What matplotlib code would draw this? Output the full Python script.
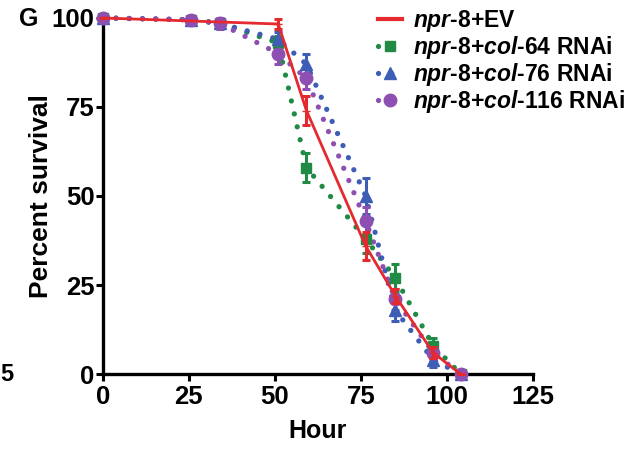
import numpy as np
import matplotlib
matplotlib.use("Agg")
import matplotlib.pyplot as plt
from matplotlib.lines import Line2D

plt.rcParams['font.family'] = 'Liberation Sans'
plt.rcParams['font.weight'] = 'bold'
plt.rcParams['mathtext.fontset'] = 'custom'
plt.rcParams['mathtext.it'] = 'Liberation Sans:italic:bold'
plt.rcParams['mathtext.rm'] = 'Liberation Sans:bold'

#%% data
hours = [0, 25.6, 34, 51, 59.2, 76.4, 85, 96, 104]
hours_ev = [0, 51, 59.2, 76.4, 85, 96, 104]

ev = [100, 98.3, 74, 36, 22, 6, 0]
ev_err = [0, 1.5, 4, 4, 2, 1.5, 0]

col64 = [100, 99.5, 98.5, 93, 58, 38, 27, 8, 0]
col64_err = [0, 0.5, 1, 2, 4, 4, 4, 2, 0]

col76 = [100, 99.5, 98.5, 94, 87, 50, 18, 4, 0]
col76_err = [0, 0.5, 1, 2, 3, 5, 3, 2, 0]

col116 = [100, 99.5, 98.5, 90, 83, 43, 21, 6, 0]
col116_err = [0, 1, 1.5, 3, 3, 4, 3, 2, 0]

labels = [r'$\mathit{npr}$-$\mathit{8}$+EV',
          r'$\mathit{npr}$-$\mathit{8}$+$\mathit{col}$-$\mathit{64}$ RNAi',
          r'$\mathit{npr}$-$\mathit{8}$+$\mathit{col}$-$\mathit{76}$ RNAi',
          r'$\mathit{npr}$-$\mathit{8}$+$\mathit{col}$-$\mathit{116}$ RNAi']

red = '#e52a2f'
green = '#1f8b45'
blue = '#3e5db5'
purple = '#8e4fb2'

dots = (0, (0.01, 2.5))

#%% plotting
fig = plt.figure(figsize=(6.42, 4.49), dpi=100)
ax = fig.add_axes([0.160, 0.167, 0.670, 0.793])

series = [(hours, col64, col64_err, green, 's', 7),
          (hours, col76, col76_err, blue, '^', 8),
          (hours, col116, col116_err, purple, 'o', 9)]
for x, y, e, c, m, ms in series:
    ax.plot(x, y, color=c, lw=3.8, linestyle=dots, dash_capstyle='round',
            clip_on=False, zorder=3)
    ax.errorbar(x, y, yerr=e, fmt=m, color=c, ms=ms, capsize=3, elinewidth=2.2,
                capthick=2.2, clip_on=False, zorder=4)

ax.plot(hours_ev, ev, color=red, lw=2, clip_on=False, zorder=5)
ax.errorbar(hours_ev, ev, yerr=ev_err, fmt='_', color=red, ms=6, capsize=3,
            elinewidth=2.2, capthick=2.2, clip_on=False, zorder=5)

ax.set_xlim(0, 125)
ax.set_ylim(0, 100)
ax.set_xticks([0, 25, 50, 75, 100, 125])
ax.set_yticks([0, 25, 50, 75, 100])
for s in ['top', 'right']:
    ax.spines[s].set_visible(False)
for s in ['left', 'bottom']:
    ax.spines[s].set_linewidth(2.4)
ax.tick_params(width=2.2, length=5, labelsize=18.5)
ax.tick_params(axis='y', pad=1)
ax.tick_params(axis='x', pad=3)
ax.set_xlabel('Hour', fontsize=18, fontweight='bold', labelpad=7)
ax.set_ylabel('Percent survival', fontsize=19, fontweight='bold', labelpad=-1)

handles = [Line2D([0], [0], color=red, lw=3, marker='_', ms=8),
           Line2D([0], [0], color=green, lw=3.8, linestyle=dots, dash_capstyle='round',
                  marker='s', ms=7),
           Line2D([0], [0], color=blue, lw=3.8, linestyle=dots, dash_capstyle='round',
                  marker='^', ms=8),
           Line2D([0], [0], color=purple, lw=3.8, linestyle=dots, dash_capstyle='round',
                  marker='o', ms=9)]
leg = ax.legend(handles, labels, loc='upper left', bbox_to_anchor=(0.619, 1.055),
                frameon=False, fontsize=16.5, handlelength=1.05, handletextpad=0.48,
                labelspacing=0.0, borderaxespad=0)

fig.text(0.030, 0.958, 'G', fontsize=18, fontweight='bold', va='center')
fig.text(0.0, 0.167, '5', fontsize=17, fontweight='bold', va='center')

plt.savefig('out.png', dpi=100)
